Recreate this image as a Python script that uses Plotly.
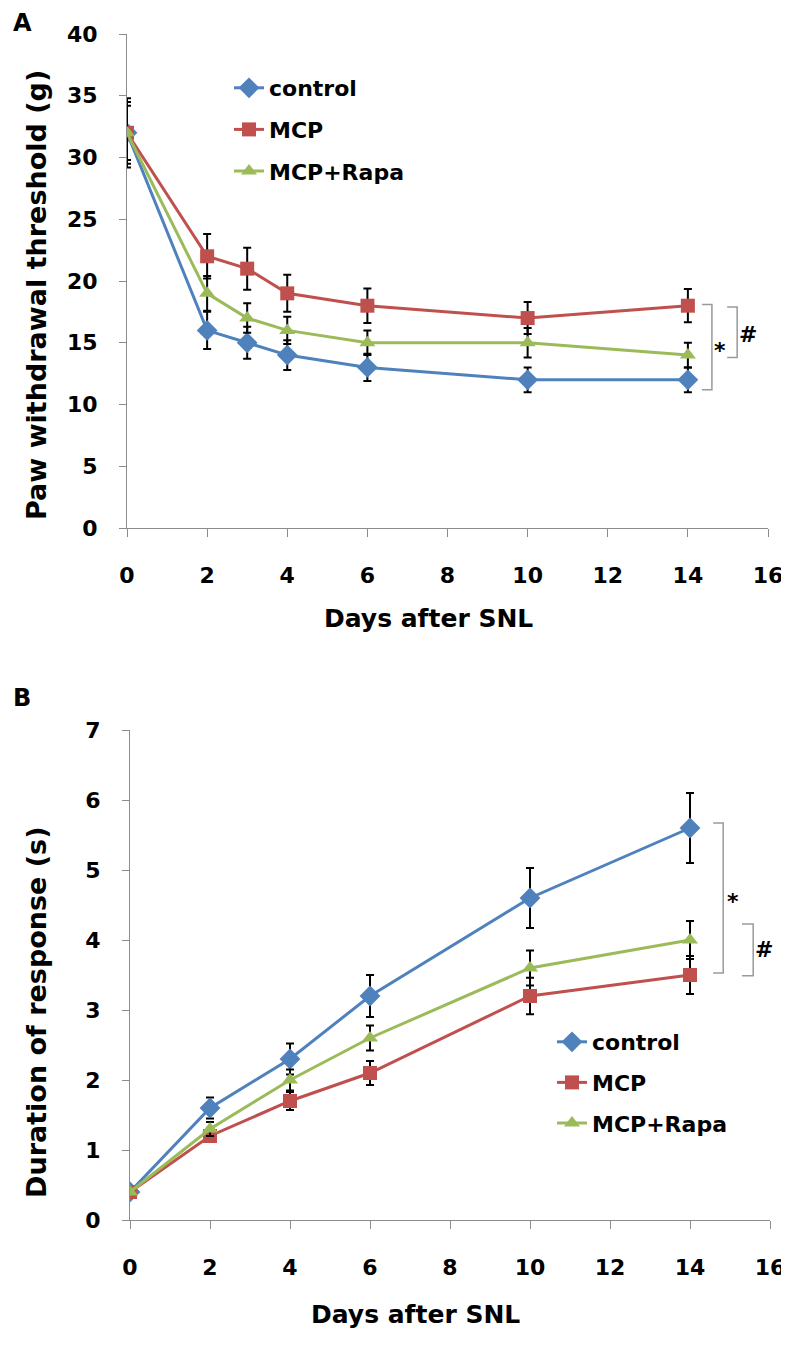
import plotly.graph_objects as go

# ---------------- data ----------------
days_a = [0, 2, 3, 4, 6, 10, 14]
pwt_control = [32, 16, 15, 14, 13, 12, 12]
pwt_mcp = [32, 22, 21, 19, 18, 17, 18]
pwt_rapa = [32, 19, 17, 16, 15, 15, 14]
pwt_control_err = [2.8, 1.5, 1.3, 1.2, 1.1, 1.0, 1.0]
pwt_mcp_err = [2.5, 1.8, 1.7, 1.5, 1.4, 1.3, 1.35]
pwt_rapa_err = [2.2, 1.4, 1.2, 1.1, 1.0, 1.2, 1.0]

days_b = [0, 2, 4, 6, 10, 14]
dur_control = [0.4, 1.6, 2.3, 3.2, 4.6, 5.6]
dur_mcp = [0.4, 1.2, 1.7, 2.1, 3.2, 3.5]
dur_rapa = [0.4, 1.3, 2.0, 2.6, 3.6, 4.0]
dur_control_err = [0.0, 0.15, 0.22, 0.3, 0.43, 0.5]
dur_mcp_err = [0.0, 0.08, 0.13, 0.17, 0.26, 0.27]
dur_rapa_err = [0.0, 0.1, 0.15, 0.18, 0.25, 0.27]

series_names = ["control", "MCP", "MCP+Rapa"]
x_ticks = [0, 2, 4, 6, 8, 10, 12, 14, 16]
y_ticks_a = [0, 5, 10, 15, 20, 25, 30, 35, 40]
y_ticks_b = [0, 1, 2, 3, 4, 5, 6, 7]

# ---------------- style ----------------
OFF = 8  # page body margin
W, H = 789 - OFF, 1354 - OFF
FONT = "DejaVu Sans"
colors = ["#4F81BD", "#C0504D", "#9BBB59"]
symbols = ["diamond", "square", "triangle-up"]
sizes = [16, 14, 14]
AXIS_COL = "#8C8C8C"


def px_x(p):
    return (p - OFF) / W


def px_y(p):
    return 1 - (p - OFF) / H


fig = go.Figure()

panel_a = [pwt_control, pwt_mcp, pwt_rapa]
panel_a_err = [pwt_control_err, pwt_mcp_err, pwt_rapa_err]
panel_b = [dur_control, dur_mcp, dur_rapa]
panel_b_err = [dur_control_err, dur_mcp_err, dur_rapa_err]

for i in range(3):
    fig.add_trace(go.Scatter(
        x=days_a, y=panel_a[i], name=series_names[i], mode="lines+markers",
        line=dict(color=colors[i], width=3),
        marker=dict(symbol=symbols[i], size=sizes[i], color=colors[i]),
        error_y=dict(type="data", array=panel_a_err[i], color="black",
                     thickness=2, width=4),
        xaxis="x", yaxis="y", legend="legend", legendgroup="a%d" % i,
    ))

for i in range(3):
    fig.add_trace(go.Scatter(
        x=days_b, y=panel_b[i], name=series_names[i], mode="lines+markers",
        line=dict(color=colors[i], width=3),
        marker=dict(symbol=symbols[i], size=sizes[i], color=colors[i]),
        error_y=dict(type="data", array=panel_b_err[i], color="black",
                     thickness=2, width=4),
        xaxis="x2", yaxis="y2", legend="legend2", legendgroup="b%d" % i,
    ))

tickfont = dict(family=FONT, size=22, color="black", weight="bold")
titlefont_x = dict(family=FONT, size=25, color="black", weight="bold")
titlefont_y = dict(family=FONT, size=27, color="black", weight="bold")
legfont = dict(family=FONT, size=22, color="black", weight="bold")
letterfont = dict(family=FONT, size=24, color="black", weight="bold")

common_x = dict(
    range=[0, 16], tickvals=x_ticks, ticks="outside", ticklen=8, tickwidth=1,
    tickcolor=AXIS_COL, showline=True, linecolor=AXIS_COL, linewidth=1,
    showgrid=False, zeroline=False, tickfont=tickfont, ticklabelstandoff=20,
    automargin=False,
)
common_y = dict(
    ticks="outside", ticklen=7, tickwidth=1, tickcolor=AXIS_COL,
    showline=True, linecolor=AXIS_COL, linewidth=1, showgrid=False,
    zeroline=False, tickfont=tickfont, ticklabelstandoff=17, automargin=False,
)

fig.update_layout(
    width=W, height=H, margin=dict(l=0, r=0, t=0, b=0),
    paper_bgcolor="white", plot_bgcolor="white",
    xaxis=dict(common_x, domain=[px_x(127), px_x(768)], anchor="y"),
    yaxis=dict(common_y, domain=[px_y(528), px_y(34)], anchor="x",
               range=[0, 40], tickvals=y_ticks_a),
    xaxis2=dict(common_x, domain=[px_x(130), px_x(770)], anchor="y2"),
    yaxis2=dict(common_y, domain=[px_y(1220), px_y(730)], anchor="x2",
                range=[0, 7], tickvals=y_ticks_b),
    legend=dict(x=px_x(229), y=px_y(67), xanchor="left", yanchor="top",
                font=legfont, bgcolor="rgba(0,0,0,0)", tracegroupgap=10,
                traceorder="grouped", itemwidth=30),
    legend2=dict(x=px_x(552), y=px_y(1021), xanchor="left", yanchor="top",
                 font=legfont, bgcolor="rgba(0,0,0,0)", tracegroupgap=9,
                 traceorder="grouped", itemwidth=30),
    showlegend=True,
)


def bracket(xr, yr, x0, x1, ytop, ybot):
    return dict(type="path", xref=xr, yref=yr,
                path="M %g,%g L %g,%g L %g,%g L %g,%g" % (x0, ytop, x1, ytop, x1, ybot, x0, ybot),
                line=dict(color="#9A9A9A", width=1.5))


shapes = [
    # panel A: * control vs MCP, # MCP vs Rapa
    bracket("x", "y", 14.35, 14.6, pwt_mcp[-1] + 0.1, pwt_control[-1] - 0.8),
    bracket("x", "y", 14.98, 15.23, pwt_mcp[-1] - 0.1, pwt_rapa[-1] - 0.2),
    # panel B
    bracket("x2", "y2", 14.58, 14.83, dur_control[-1] + 0.07, dur_mcp[-1] + 0.03),
    bracket("x2", "y2", 15.3, 15.58, dur_rapa[-1] + 0.23, dur_mcp[-1] - 0.01),
]
fig.update_layout(shapes=shapes)

sigfont = dict(family=FONT, size=22, color="black", weight="bold")


def paper_text(text, sx, sy, font, angle=0):
    return dict(text=text, x=px_x(sx), y=px_y(sy), xref="paper", yref="paper",
                xanchor="center", yanchor="middle", showarrow=False,
                textangle=angle, font=font)


annotations = [
    dict(text="*", x=14.8, y=14.4, xref="x", yref="y", showarrow=False, font=sigfont),
    dict(text="#", x=15.5, y=15.7, xref="x", yref="y", showarrow=False, font=sigfont),
    dict(text="*", x=15.08, y=4.55, xref="x2", yref="y2", showarrow=False, font=sigfont),
    dict(text="#", x=15.85, y=3.86, xref="x2", yref="y2", showarrow=False, font=sigfont),
    # axis titles
    paper_text("Days after SNL", 428, 619, titlefont_x),
    paper_text("Days after SNL", 415, 1314, titlefont_x),
    paper_text("Paw withdrawal threshold (g)", 36, 295, titlefont_y, -90),
    paper_text("Duration of response (s)", 36, 1012, titlefont_y, -90),
    # panel letters
    paper_text("A", 22, 23, letterfont),
    paper_text("B", 22, 698, letterfont),
]
fig.update_layout(annotations=annotations)

fig.write_html("out.html")
